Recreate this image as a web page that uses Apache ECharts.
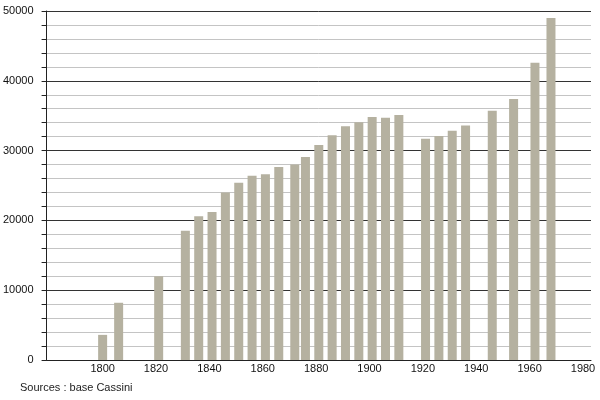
<!DOCTYPE html>
<html>
<head>
<meta charset="utf-8">
<script src="https://cdn.jsdelivr.net/npm/echarts@6/dist/echarts.min.js"></script>
<style>html,body{margin:0;padding:0;background:#fff;}#c{width:600px;height:400px;}</style>
</head>
<body>
<div id="c"></div>
<script>
const years = [1800, 1806, 1821, 1831, 1836, 1841, 1846, 1851, 1856, 1861, 1866, 1872, 1876, 1881, 1886, 1891, 1896, 1901, 1906, 1911, 1921, 1926, 1931, 1936, 1946, 1954, 1962, 1968];
const population = [3600, 8200, 12000, 18500, 20600, 21200, 24000, 25400, 26400, 26600, 27650, 28000, 29100, 30800, 32200, 33500, 34050, 34800, 34700, 35100, 31700, 32100, 32850, 33600, 35700, 37400, 42600, 49000];
const xTickLabels = [1800, 1820, 1840, 1860, 1880, 1900, 1920, 1940, 1960, 1980];
const sourceText = 'Sources : base Cassini';

const chart = echarts.init(document.getElementById('c'), null, {renderer: 'canvas'});
const font = '"Liberation Sans", Arial, sans-serif';
chart.setOption({
  animation: false,
  backgroundColor: '#fff',
  grid: {left: 44, right: 9, top: 11, bottom: 40, containLabel: false},
  graphic: [{
    type: 'text', left: 20, top: 382,
    style: {text: sourceText, font: '11px ' + font, fill: '#222'}
  }],
  xAxis: {
    type: 'value', min: 1779, max: 1983, containShape: false,
    axisLine: {show: true, lineStyle: {color: '#222', width: 1}},
    axisTick: {show: false},
    splitLine: {show: false},
    axisLabel: {
      customValues: xTickLabels, color: '#111', fontSize: 11, fontFamily: font, margin: 3,
      formatter: v => String(v)
    }
  },
  yAxis: {
    type: 'value', min: 0, max: 50000, interval: 10000,
    axisLine: {show: true, lineStyle: {color: '#222', width: 1}},
    axisTick: {show: true, length: 5, lineStyle: {color: '#222'}},
    minorTick: {show: true, splitNumber: 5, length: 5, lineStyle: {color: '#222'}},
    splitLine: {show: true, lineStyle: {color: '#333', width: 1}},
    minorSplitLine: {show: true, lineStyle: {color: '#c4c4c4', width: 1}},
    axisLabel: {color: '#111', fontSize: 11, fontFamily: font, margin: 13, formatter: v => String(v)}
  },
  series: [{
    type: 'bar',
    data: years.map((y, i) => [y, population[i]]),
    barWidth: 9,
    itemStyle: {color: '#b5b1a0'}
  }]
});
</script>
</body>
</html>
